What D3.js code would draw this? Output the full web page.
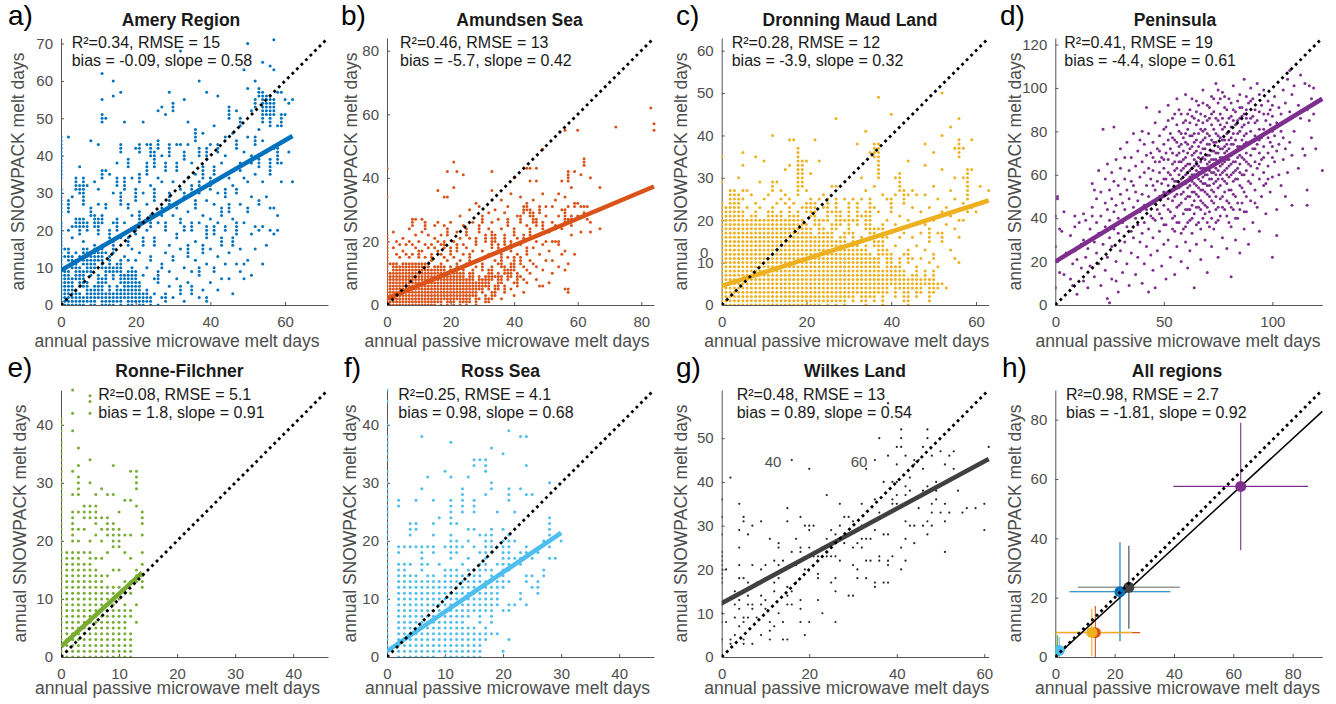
<!DOCTYPE html>
<html>
<head>
<meta charset="utf-8">
<script src="https://cdn.jsdelivr.net/npm/d3@7"></script>
<style>
  body { margin: 0; background: #fff; }
  svg { display: block; }
  text { font-family: "Liberation Sans", Arial, Helvetica, sans-serif; }
</style>
</head>
<body>
<svg id="fig" width="1336" height="704"></svg>
<script>
// ---------------- data ----------------
const panelNames = ["Amery Region", "Amundsen Sea", "Dronning Maud Land", "Peninsula",
                    "Ronne-Filchner", "Ross Sea", "Wilkes Land", "All regions"];
const panelLetters = ["a)", "b)", "c)", "d)", "e)", "f)", "g)", "h)"];
const panelColors = ["#0072BD", "#D95319", "#EDB120", "#7E2F8E", "#77AC30", "#4DBEEE", "#262626", "#000000"];
const axisMax = [71.5, 84, 63, 123, 46, 46, 61, 90];
const xTicks = [[0, 20, 40, 60], [0, 20, 40, 60, 80], [0, 20, 40, 60], [0, 50, 100],
                [0, 10, 20, 30, 40], [0, 10, 20, 30, 40], [0, 20, 40, 60], [0, 20, 40, 60, 80]];
const yTicks = [[0, 10, 20, 30, 40, 50, 60, 70], [0, 20, 40, 60, 80], [0, 10, 20, 30, 40, 50, 60],
                [0, 20, 40, 60, 80, 100, 120], [0, 10, 20, 30, 40], [0, 10, 20, 30, 40],
                [0, 10, 20, 30, 40, 50], [0, 20, 40, 60, 80]];
const statLine1 = ["R²=0.34, RMSE = 15", "R²=0.46, RMSE = 13", "R²=0.28, RMSE = 12", "R²=0.41, RMSE = 19",
                   "R²=0.08, RMSE = 5.1", "R²=0.25, RMSE = 4.1", "R²=0.48, RMSE = 13", "R²=0.98, RMSE = 2.7"];
const statLine2 = ["bias = -0.09, slope = 0.58", "bias = -5.7, slope = 0.42", "bias = -3.9, slope = 0.32",
                   "bias = -4.4, slope = 0.61", "bias = 1.8, slope = 0.91", "bias = 0.98, slope = 0.68",
                   "bias = 0.89, slope = 0.54", "bias = -1.81, slope = 0.92"];
const fitIntercept = [9.3, 2.0, 4.5, 20.0, 1.8, 1.0, 12.3, 0];
const fitSlope = [0.58, 0.42, 0.32, 0.61, 0.91, 0.68, 0.54, 0.92];
const fitXMax = [62, 84, 63, 123, 14, 30, 61, 90];

// scatter points, one string per x value: "x:y values (a-b = every day from a to b)"
const ameryCols = [
  "0:0-22,24-31,34-45", "1:0-10,13,15", "2:0-9,12-15,20,25-28,45", "3:0-7,10-13,18,21,29",
  "4:0-4,7-12,14,21-23,31-34", "5:0-3,5-10,13,19-23,30-32,37", "6:0-2,5-9,11-15,17,21-23,27-34",
  "7:1-6,9-15,20-22,32", "8:0-4,8-14,24-26,44", "9:0-5,10-16,21-24,33", "10:2-8,12-15,19-23,27,31,43",
  "11:0-7,10-16,22-24,34-36,49-51,55,62", "12:0-3,6-10,14,26-27,36,50", "13:0-5,9-13,18-20,35",
  "14:0-3,7-10,14-17,22,30,56,60", "15:1-5,9-11,20-23,32-34,38", "16:0-4,6-12,18,27-30,41-43,57",
  "17:2-8,13,22,31-34,49", "18:0-9,12,16-18,26-27,37-39", "19:0-10,15,24,34", "20:1-9,12,19-21,28-31,42",
  "21:0-6,14,22-25,33-35,41-43", "22:0-3,8,16-18,30,49", "23:1-4,10,20,27,35-38,43",
  "24:0-2,12-13,21-24,32,40-43", "25:3,7,16-18,28-31,37-41", "26:0,6-9,22,34,42-44,52",
  "27:2,10-11,24-26,33,40,53", "28:1-3,14,20-22,36-38,51", "29:5,9,16,27-30,40-43,57",
  "30:2,12-13,24,33,52-54", "31:7,18-19,26-27,36-38,43", "32:3-5,15,22-23,31,43,68",
  "33:1,10,20-21,29-30,39-41,55", "34:6,13-16,25,34,43,49", "35:3-5,9,20-22,30-32,38",
  "36:12,17,26-28,35,44-47", "37:2,8-10,22,30-33,40-42,60", "38:4,14-16,24,34-37,46",
  "39:1-2,11,18-21,28,39-42,57", "40:6,15,23,31-34,43", "41:9-10,19-21,27,35-37,48",
  "42:4,13,22,30,41-43,56", "43:7,16-18,24-26,38", "44:11,20-21,29-31,40,45", "45:7,14,25-27,34,50-53",
  "46:3,16-18,23,32,46", "47:11,19-22,30-31,42-44,52", "48:9,15,27,36-38,48-50", "49:7,11,22,34,41,63",
  "50:12,25-26,33,45,58,70", "51:8,19,29,38-40,52", "52:15,21,35,43-45,53-55,60",
  "53:20,27-28,37-40,47,56-58", "54:11,21,33,44,49-57,65", "55:16,29,41,51-56",
  "56:20,26,35-39,48-56,64", "57:19,26,42,51-55,63,71", "58:20,24,38-42,48,57", "59:33,38,48-51,57",
  "60:51,55", "61:41,54", "62:33,55"
];
const amundsenCols = [
  "0:0-22,34,43", "1:0-10,13", "2:0-13,18,23", "3:0-13,16,20", "4:0-12,15,19", "5:0-13,17,21",
  "6:0-13,16,19", "7:0-13,15,20,24", "8:0-13,16,19,25-27", "9:0-13,18,22,27", "10:0-13,15-17,20",
  "11:0-13,17,23,27", "12:0-13,15,19,24-26", "13:0-13,18,22", "14:0-11,14-16,19", "15:0-12,18,21,25",
  "16:1-12,17,20,26,36", "17:0-13,16,19,22", "18:2-12,15,18-20,25,34", "19:0-10,14,22-24,34,42",
  "20:1-12,16-18,26", "21:0-11,15,20,37,45", "22:2-13,17-19,23,42", "23:0-10,14,21,28",
  "24:1-12,16,19,25,41", "25:0-8,13,18,22-24", "26:1-10,14-16,21,30", "27:3-11,17,26",
  "28:0-7,12,19-21,32", "29:2,5-9,14,23-25,31", "30:4-8,11-13,17,26-28", "31:1-3,6-9,15,20-22",
  "32:1-2,5-11,16,24,29", "33:2-4,8-12,18-23,26,36,42", "34:3-6,9,14,20-22,30", "35:5-10,13,17-19,27",
  "36:2,7-9,12-16,24,33", "37:4-6,10-12,19-22,29", "38:8-11,15,25-27,31", "39:5,9-13,17-20,35",
  "40:3,7,11-15,22-24,40", "41:6-10,16,21,28", "42:9,13-15,19,26-28,34", "43:4,8,12,20-22,29-31",
  "44:7,11,16-18,25,30-32,43", "45:10,14,21-24,28-30,39,43", "46:13,18,26-29,33", "47:8,12,20,25-27,39,43",
  "48:6,16,22,29-31", "49:6,11,19,24-26,35,49", "50:14,20,28,31", "51:7,17,23", "52:10,14,20,26,31",
  "53:20,24-25,33", "54:12,19-20,28,35", "55:16,24,30,39", "56:5,11,17,26-30,34,55",
  "57:4-5,13,27,31,39-42", "58:22,25-28,37", "59:16,31-32,42", "60:28,32,55", "61:23,31,41",
  "62:29,31,44-46", "63:27,31", "64:23,26,40", "67:24,30,37", "72:56", "83:62", "84:55,57"
];
const maudCols = [
  "0:0-24,29,35", "1:0-23", "2:0-27", "3:0-27", "4:0-26,30", "5:0-22,25,27,33,36", "6:0-20,23,27",
  "7:0-21,26", "8:0-22,24,35", "9:0-20,23,29", "10:0-20,25,34", "11:0-22,26", "12:0-23,27-29,40",
  "13:0-21,24,29", "14:0-22,25,27", "15:0-20,24,26,32", "16:0-23,25,33,39", "17:0-21,24,39",
  "18:0-22,26-37", "19:0-20,23,28-34", "20:0-19,22-24,27,34", "21:0-18,21-25,31", "22:0-16,19-24,39",
  "23:0-20,25,34", "24:1-18,20,23,26", "25:0-17,20-25", "26:1-19,22,28", "27:0-15,18-25,28,44",
  "28:1-16,19-22", "29:0-17,20,25", "30:2-14,17-24", "31:1-17,20,25", "32:3-15,19-24,38",
  "33:1-13,16,21,25,30", "34:0-14,18-22,27,41", "35:2-12,16-25,36", "36:1-11,14-18,23,28,35-38",
  "37:3-15,18,22,30-38,49", "38:0-8,12-19,26", "39:3-13,16,20,25", "40:5-12,17,22-25,45",
  "41:2-9,14,19,26,30", "42:4-11,16,21,27-31", "43:1-8,12,17,24-27", "44:0-6,10-13,20,26,34",
  "45:4-7,11,16,23,27", "46:2-9,14,26", "47:3-6,11,17,22", "48:5-8,13,19,26,33,38",
  "49:1-6,10,15-18,23", "50:3-8,11-12,20,28,36", "51:4-5,9,17,25", "52:5,15-17,22,32,40,50",
  "53:4,19,23", "54:13,21,27,42", "55:11,18,25,30,37", "56:10,16,20,35-39,44", "57:20,24,30,37",
  "58:22,25-32", "59:23,32,39", "60:22", "61:28", "63:27"
];
const peninsulaCols = [
  "0:8,27,41", "1:20,49,50", "2:15,35", "3:34", "4:14,43", "5:24", "7:12,32", "8:9,19", "9:25,36,41",
  "10:5,21", "11:38", "12:17,28", "13:11,30,42", "14:22,39", "15:8,26", "16:18,35", "17:41,45,56",
  "18:13,29,53", "19:24,38,49", "20:19,33,62", "21:9,41,52", "22:28,81", "23:16,36,47,58",
  "24:3,22,44,65", "25:1,31,39,53", "26:12,27,49,61", "27:35,43,57,82", "28:11,20,46,67",
  "29:6,33,40,55", "30:25,51,63,72", "31:15,38,47", "32:29,44,58,68", "33:19,36,53,75",
  "34:9,41,49,62", "35:24,34,57,68", "36:31,45,55,79", "37:14,40,52,64", "38:22,37,48,71",
  "39:29,43,59,76", "40:10,33,51,66,80", "41:19,38,46,61,74", "42:27,44,55,69,91", "43:6,35,50,63,79",
  "44:23,41,58,70", "45:16,31,40,47,55,62,68,75", "46:8,39,53,66,84", "47:25,44,57,72",
  "48:34,42,50,61,66,71,78,89", "49:18,40,56,68", "50:28,37,46,52,58,63,67,74,81",
  "51:12,37,58,70,82", "52:30,44,49,55,61,67,76,85,92", "53:22,43,60,72,79",
  "54:35,40,48,53,58,65,70,77,86", "55:14,34,41,50,57,62,66,76,88", "56:27,38,45,51,57,63,69,75,83,95",
  "57:38,46,54,60,66,70,73,80,90", "58:20,33,47,51,58,62,66,74,79,88", "59:35,42,52,56,63,67,71,77,84",
  "60:29,36,44,49,56,60,64,68,75,79,85,97", "61:17,38,44,50,54,61,65,70,74,81,88",
  "62:25,39,44,50,55,59,62,65,72,78,84,90", "63:33,40,46,52,57,60,63,69,73,78,87,95",
  "64:8,42,48,52,56,60,64,67,70,75,79,86", "65:28,37,45,51,55,59,62,66,71,76,83,89,94",
  "66:38,45,50,54,58,61,64,68,73,79,85,92", "67:21,35,44,48,53,57,61,63,66,70,75,81,88",
  "68:40,47,53,56,59,63,68,72,76,80,84,93,99", "69:30,42,46,52,56,60,63,67,72,77,81,87",
  "70:15,38,45,51,55,60,63,65,69,74,79,85,92", "71:36,43,50,55,58,62,66,69,74,78,86,91",
  "72:27,40,48,53,58,61,64,67,71,76,83,88,96", "73:35,47,52,56,61,64,67,71,75,81,89,95",
  "74:38,44,50,57,60,63,67,70,75,79,86,102", "75:22,39,45,54,58,62,66,70,73,78,85,93,99",
  "76:41,49,55,60,64,68,72,77,83,88,95", "77:31,45,50,58,61,65,68,72,76,81,86,98",
  "78:44,52,57,62,66,70,73,76,82,91,96", "79:26,41,48,56,60,63,67,71,74,79,84,90",
  "80:38,47,53,59,64,67,72,76,80,86,95", "81:13,36,45,53,60,65,69,74,77,82,87,93",
  "82:44,51,57,61,66,70,74,79,85,90,101", "83:30,40,50,58,62,66,71,76,83,89", "84:40,47,58,63,68,73,79,85,94",
  "85:24,44,55,61,65,69,73,80,86,91,97", "86:47,54,60,68,72,76,82,87,91", "87:35,43,52,60,67,74,78,83,88,104",
  "88:43,50,62,66,70,75,79,86,90,96", "89:28,57,65,84,93", "90:48,56,64,69,75,80,86,94,100",
  "91:38,60,72,87,95", "92:47,53,66,72,78,84,90", "93:45,63,74,85,102", "94:34,58,65,70,76,81,89,97",
  "95:50,67,77,92", "96:55,61,68,73,81,88,99", "97:42,56,79,85", "98:58,64,70,77,88,94", "99:52,75,83,90",
  "100:22,59,68,73,80,87,92", "101:66,78,96", "102:32,44,71,84", "103:60,74,91", "104:55,80,88", "105:67,77,99",
  "106:50,72,93", "107:61,85,104", "108:75,89,108", "109:46,69,97", "110:80,101", "112:63,92",
  "113:86,106", "114:72", "115:69,102", "116:46,53,90", "117:85,101", "118:77,95", "119:88,100",
  "120:72", "123:62"
];
const ronneCols = [
  "0:0-41", "1:0-18", "2:0-18,20-25,28,32,39,42,46", "3:0-18,20,22,25,28-31,33,36", "4:0-16,18,22,24-26",
  "5:0-18,20,24-26,30,34,42,44-45", "6:0-15,17,21,23-26,28", "7:0-14,17,20,22,24,29",
  "8:0-12,14,18,21-24,28", "9:0-12,15,19-23,28,33", "10:0-8,10,12,15,19-22,25", "11:0-9,11,13,18,21,27",
  "12:0-4,7-8,11,13,17,21,27,32", "13:6,9,13-15,26,29-32", "14:12-14,16,18,21,23-25"
];
const rossCols = [
  "0:0-32,34-38,40,44,46", "2:0-16,18-19,26-27", "3:0-16,19", "4:0-14,16,19,21-23", "5:0-14,19,22-23,27",
  "6:0-13,15-19,29,38", "7:0-14,16,19,31", "8:0-14,18-19,21,23,27", "9:1-13,16,24", "10:0-15,19,32",
  "11:0-15,17-21,23-27,31,37", "12:0-15,18-20,23", "13:0-14,16,19,25-29", "14:0-5,7-15,17,20,22,31",
  "15:0-5,8-15,19,22,25-27,33-34", "16:0-4,6-16,18,21,34", "17:3-5,8-13,15-21,28,32-34",
  "18:4,6-15,18-22,29-30,36", "19:4,9-14,16,19,25", "20:1,8,12-20,22,35", "21:3,8-9,13,15-21,27-29,39",
  "22:9,16-17,20,25", "23:10-11,16-18,29,38", "24:9,13-14,18-19,28,33,38", "25:12,14,17,28",
  "26:11-13,18", "27:14-15,20", "28:17,19-24,30", "29:17", "30:20"
];
const wilkesCols = [
  "0:0,4,8,10,12,17-24,28,32,36", "1:8,20", "2:3,4,41", "3:5,9,12,15", "4:7,11,13,18,21,25,29,35",
  "5:3,4,8,9,18,31,32", "6:9,12,14,17,28", "7:3,11,12,21,30", "8:9,17", "9:5,12,14,20,31",
  "10:11,13,18,21", "11:4,6,8,27", "12:7,15,17,22", "13:10,18,21,25,26", "14:4,8,22",
  "15:4,12,14,16,31,34", "16:12,15,24,45", "17:17,21,27", "18:8,11,13,24,25,32", "19:5,20,30",
  "20:8,25,29,30,43", "21:23,30", "22:13,18,19,23", "23:10,25", "24:23,24,27,37", "25:17,23,29",
  "26:8,15,18,23,28", "27:22,30,35", "28:26,32", "29:14,28,32", "30:14,21,25,31", "31:18,20,26",
  "32:25,27,30,35", "33:18,22,27,43", "34:22,27", "35:16,17,29,36,45", "36:22,23,33,50", "37:17,28,40",
  "38:17,21,22,28,46,58", "39:23,35,36,40", "40:35,37,40,44,48,57", "41:20,25,48,50,52,57",
  "42:22,27,31,37,39,46", "43:30,38,41", "44:26,30,44,45", "45:34,45", "46:30,37,38,43,48",
  "47:28,31,39,50,52", "48:30,33,35,46", "49:36,38,40", "50:33,47", "51:24,31,35,44", "52:33,46",
  "53:43,47", "54:38", "55:33", "56:34", "58:34", "60:29,35", "61:48"
];

// panel h: regional means with standard deviations
const regionColors = ["#0072BD", "#D95319", "#EDB120", "#7E2F8E", "#77AC30", "#4DBEEE", "#404040"];
const regionMeanX = [21.8, 13.5, 12.3, 62.5, 0.7, 1.3, 24.8];
const regionMeanY = [22.0, 8.2, 8.3, 57.5, 2.3, 2.2, 23.5];
const regionSdX = [17.0, 15.1, 13.6, 22.7, 0.8, 2.0, 17.2];
const regionSdY = [16.7, 9.0, 8.0, 21.5, 5.1, 4.5, 14.0];
const regionXErrColor = ["#0072BD", "#D95319", "#EDB120", "#7E2F8E", "#77AC30", "#4DBEEE", "#999999"];

// ---------------- layout ----------------
const colLeft = [61, 387, 721.7, 1055.3];
const rowTop = [38, 390];
const plotSize = 267;
const letterPos = [[8, 25], [341, 25], [676, 25], [1000, 25], [7.5, 377], [344, 377], [676, 377], [1002, 377]];
const titleX = [181, 519.5, 850, 1175, 179.5, 500.5, 855, 1177];
const statX = [71.7, 400, 731.7, 1064.3, 98.3, 398.3, 736.7, 1066];
const xLabelX = [177, 507, 846.7, 1178, 177.5, 507.5, 846.7, 1177.5];
const yLabelX = [24, 356.7, 686.7, 1021, 26, 356, 686.7, 1021];

function parseCols(cols) {
  const pts = [];
  cols.forEach(s => {
    const [xs, ys] = s.split(":");
    ys.split(",").forEach(part => {
      const [a, b] = part.split("-").map(Number);
      const end = b === undefined ? a : b;
      for (let v = a; v <= end; v++) pts.push([+xs, v]);
    });
  });
  return pts;
}
const scatterData = [ameryCols, amundsenCols, maudCols, peninsulaCols, ronneCols, rossCols, wilkesCols].map(parseCols);

const svg = d3.select("#fig");
const tickColor = "#4d4d4d";

panelNames.forEach((name, i) => {
  const col = i % 4, row = Math.floor(i / 4);
  const left = colLeft[col], top = rowTop[row];
  const x = d3.scaleLinear().domain([0, axisMax[i]]).range([left, left + plotSize]);
  const y = d3.scaleLinear().domain([0, axisMax[i]]).range([top + plotSize, top]);
  const g = svg.append("g").attr("class", "panel");

  // axes (MATLAB style: box off, ticks inward)
  const xa = g.append("g").attr("transform", `translate(0,${top + plotSize})`)
    .call(d3.axisBottom(x).tickValues(xTicks[i]).tickSizeInner(-3).tickSizeOuter(0).tickPadding(11));
  const ya = g.append("g").attr("transform", `translate(${left},0)`)
    .call(d3.axisLeft(y).tickValues(yTicks[i]).tickSizeInner(-3).tickSizeOuter(0).tickPadding(8));
  [xa, ya].forEach(a => {
    a.select(".domain").attr("stroke", "#555").attr("stroke-width", 1);
    a.selectAll(".tick line").attr("stroke", "#555");
    a.selectAll(".tick text").attr("fill", tickColor).style("font-size", "15px")
      .style("font-family", '"Liberation Sans", Arial, Helvetica, sans-serif');
  });

  const clipId = "clip" + i;
  g.append("clipPath").attr("id", clipId).append("rect")
    .attr("x", left).attr("y", top - 2).attr("width", plotSize + 2).attr("height", plotSize + 2);
  const plot = g.append("g").attr("clip-path", `url(#${clipId})`);

  if (i < 7) {
    plot.selectAll("circle.pt").data(scatterData[i]).join("circle")
      .attr("class", "pt")
      .attr("cx", d => x(d[0])).attr("cy", d => y(d[1]))
      .attr("r", i === 6 ? 1.1 : 1.5)
      .attr("fill", panelColors[i]);
    plot.append("line")
      .attr("x1", x(0)).attr("y1", y(fitIntercept[i]))
      .attr("x2", x(fitXMax[i])).attr("y2", y(fitIntercept[i] + fitSlope[i] * fitXMax[i]))
      .attr("stroke", i === 6 ? "#404040" : panelColors[i]).attr("stroke-width", 4.5);
  } else {
    // error bars
    regionMeanX.forEach((mx, k) => {
      plot.append("line")
        .attr("x1", x(mx - regionSdX[k])).attr("x2", x(mx + regionSdX[k]))
        .attr("y1", y(regionMeanY[k])).attr("y2", y(regionMeanY[k]))
        .attr("stroke", regionXErrColor[k]).attr("stroke-width", k === 6 ? 1.6 : 1.1);
      plot.append("line")
        .attr("x1", x(mx)).attr("x2", x(mx))
        .attr("y1", y(regionMeanY[k] - regionSdY[k])).attr("y2", y(regionMeanY[k] + regionSdY[k]))
        .attr("stroke", regionColors[k]).attr("stroke-width", 1.1);
    });
    const x0fit = Math.max(0, -fitIntercept[i] / fitSlope[i]);
    plot.append("line")
      .attr("x1", x(x0fit)).attr("y1", y(fitIntercept[i] + fitSlope[i] * x0fit))
      .attr("x2", x(fitXMax[i])).attr("y2", y(fitIntercept[i] + fitSlope[i] * fitXMax[i]))
      .attr("stroke", "#000").attr("stroke-width", 1.5);
    plot.selectAll("circle.mean").data(regionMeanX).join("circle")
      .attr("class", "mean")
      .attr("cx", (d) => x(d)).attr("cy", (d, k) => y(regionMeanY[k]))
      .attr("r", 5.5)
      .attr("fill", (d, k) => regionColors[k]);
  }

  // 1:1 line
  plot.append("line")
    .attr("x1", x(0)).attr("y1", y(0)).attr("x2", x(axisMax[i])).attr("y2", y(axisMax[i]))
    .attr("stroke", "#000").attr("stroke-width", 2.8).attr("stroke-dasharray", "2.8 3.6");

  // texts
  g.append("text").attr("x", letterPos[i][0]).attr("y", letterPos[i][1])
    .style("font-size", "28px").attr("fill", "#000").text(panelLetters[i]);
  g.append("text").attr("x", titleX[i]).attr("y", row === 0 ? 26 : 377)
    .attr("text-anchor", "middle").style("font-size", "17.5px").style("font-weight", "bold")
    .attr("fill", "#1a1a1a").text(name);
  const sy = row === 0 ? 48.3 : 399.5;
  g.append("text").attr("x", statX[i]).attr("y", sy).style("font-size", "16px").attr("fill", "#1a1a1a").text(statLine1[i]);
  g.append("text").attr("x", statX[i]).attr("y", sy + 18).style("font-size", "16px").attr("fill", "#1a1a1a").text(statLine2[i]);
  g.append("text").attr("x", xLabelX[i]).attr("y", row === 0 ? 347 : 694)
    .attr("text-anchor", "middle").style("font-size", "17.5px").attr("fill", tickColor)
    .text("annual passive microwave melt days");
  g.append("text")
    .attr("transform", `translate(${yLabelX[i]},${top + plotSize / 2}) rotate(-90)`)
    .attr("text-anchor", "middle").style("font-size", "17.5px").attr("fill", tickColor)
    .text("annual SNOWPACK melt days");
});

// stray tick labels that appear in the original figure
svg.append("text").attr("x", 700).attr("y", 258).style("font-size", "15px").attr("fill", tickColor).text("0");
svg.append("text").attr("x", 773).attr("y", 466.7).attr("text-anchor", "middle").style("font-size", "15px").attr("fill", tickColor).text("40");
svg.append("text").attr("x", 859).attr("y", 466.7).attr("text-anchor", "middle").style("font-size", "15px").attr("fill", tickColor).text("60");
</script>
</body>
</html>
